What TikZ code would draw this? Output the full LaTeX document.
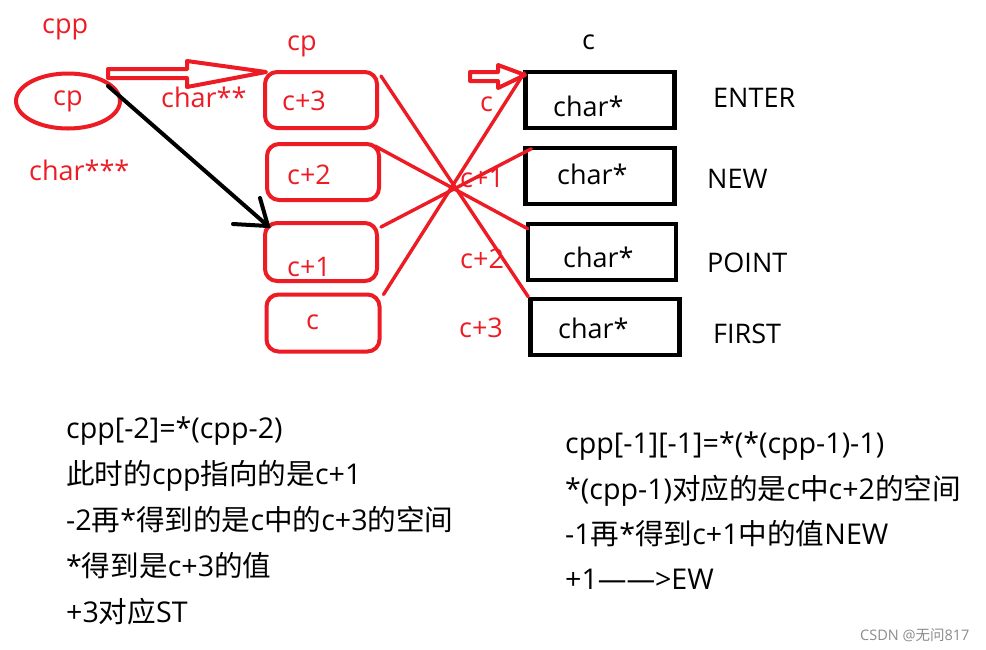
\documentclass[tikz,border=0pt]{standalone}
\usepackage{fontspec}
\setmainfont{Open Sans}
\newfontfamily\cjk{Noto Sans CJK SC}
\usetikzlibrary{shapes.geometric}
\definecolor{pred}{RGB}{237,28,36}
\begin{document}
\begin{tikzpicture}[x=1pt,y=-1pt,
  lbl/.style={anchor=base west, inner sep=0pt, font=\fontsize{27}{32}\selectfont},
  rlbl/.style={lbl, text=pred},
  rbox/.style={draw=pred, line width=4pt, rounded corners=12pt, minimum width=112pt, minimum height=56pt, inner sep=0pt},
  bbox/.style={draw=black, line width=4.5pt, minimum width=149pt, minimum height=56pt, inner sep=0pt},
  xline/.style={draw=pred, line width=3.4pt, line cap=round},
  hollow/.style={draw=pred, line width=4pt, line join=round},
  note/.style={anchor=base west, inner sep=0pt, font=\fontsize{28.6}{34}\selectfont},
]
\useasboundingbox[fill=white] (0,0) rectangle (986,649);

% ellipse cp
\node[ellipse, draw=pred, line width=4pt, minimum width=104pt, minimum height=55pt, inner sep=0pt] (cpe) at (68,101) {};
\node[rlbl] (tcpe) at (53,105) {cp};
\node[rlbl] (tcpp) at (42,33) {cpp};
\node[rlbl] (tc3s) at (29,180) {char***};
\node[rlbl] (tc2s) at (161,107) {char**};
\node[rlbl] (tcp) at (287,50) {cp};

% red boxes (cp array)
\node[rbox] (r3) at (321,100) {};
\node[rbox] (r2) at (323,172) {};
\node[rbox, minimum height=58pt] (r1) at (321,252) {};
\node[rbox, minimum width=113pt, minimum height=57pt] (r0) at (323,323) {};
\node[rlbl] (tr3) at (282,110) {c+3};
\node[rlbl] (tr2) at (287,184) {c+2};
\node[rlbl] (tr1) at (287,276) {c+1};
\node[rlbl] (tr0) at (306,329) {c};

% black boxes (c array)
\node[bbox] (b1) at (600,100) {};
\node[bbox] (b2) at (600,176) {};
\node[bbox, minimum width=148pt] (b3) at (602,252) {};
\node[bbox] (b4) at (605,327) {};
\node[lbl] (tb1) at (553,116) {char*};
\node[lbl] (tb2) at (557,184) {char*};
\node[lbl] (tb3) at (563,267) {char*};
\node[lbl] (tb4) at (558,338) {char*};
\node[lbl] (tc) at (582,49) {c};
\node[lbl] (w1) at (713,107) {ENTER};
\node[lbl] (w2) at (707,188) {NEW};
\node[lbl] (w3) at (707,272) {POINT};
\node[lbl] (w4) at (713,343) {FIRST};

% red labels of c array
\node[rlbl] (lc0) at (480,111) {c};
\node[rlbl] (lc1) at (460,187) {c+1};
\node[rlbl] (lc2) at (460,268) {c+2};
\node[rlbl] (lc3) at (459,337) {c+3};

% crossing lines
\draw[xline] ([xshift=2pt,yshift=-6pt]r3.north east) -- (b4.north west);
\draw[xline] ([xshift=-6pt,yshift=-4pt]r2.north east) -- ([xshift=2pt,yshift=-7pt]b3.north west);
\draw[xline] ([xshift=2pt,yshift=-6pt]r1.north east) -- ([xshift=8pt,yshift=-3pt]b2.north west);
\draw[xline] ([xshift=2pt,yshift=-2pt]r0.north east) -- ([xshift=1pt,yshift=-3pt]b1.north west);

% hollow arrow cpp -> cp
\coordinate (h1tip) at (266,72);
\draw[hollow] (108,69) -- (187,69) -- (187,61) -- (h1tip) -- (187,87) -- (187,78) -- (108,78) -- cycle;
% hollow arrow -> c
\coordinate (h2tip) at (525,75);
\draw[hollow] (470,72) -- (498,72) -- (498,65) -- (h2tip) -- (498,88) -- (498,81) -- (470,81) -- cycle;

% black arrow
\coordinate (bs) at (108,86);
\coordinate (bt) at (268,226);
\draw[line width=4pt, line cap=round] (bs) -- (bt);
\draw[line width=4pt, line cap=round, line join=miter] (260,198) -- (bt) -- (233,224);

% notes
\node[note] (n1) at (66,438) {cpp[-2]=*(cpp-2)};
\node[note] (n2) at (66,484) {{\cjk 此时的}cpp{\cjk 指向的是}c+1};
\node[note] (n3) at (66,530) {-2{\cjk 再}*{\cjk 得到的是}c{\cjk 中的}c+3{\cjk 的空间}};
\node[note] (n4) at (66,576) {*{\cjk 得到是}c+3{\cjk 的值}};
\node[note] (n5) at (66,622) {+3{\cjk 对应}ST};

\node[note] (m1) at (565,453) {cpp[-1][-1]=*(*(cpp-1)-1)};
\node[note] (m2) at (565,499) {*(cpp-1){\cjk 对应的是}c{\cjk 中}c+2{\cjk 的空间}};
\node[note] (m3) at (565,544) {-1{\cjk 再}*{\cjk 得到}c+1{\cjk 中的值}NEW};
\node[note] (m4) at (565,589) {+1——>EW};

\node[anchor=base west, inner sep=0pt, text=black!45, font=\fontsize{14.5}{16}\selectfont] (wm) at (860,640) {CSDN @{\cjk 无问}817};
\end{tikzpicture}
\end{document}
